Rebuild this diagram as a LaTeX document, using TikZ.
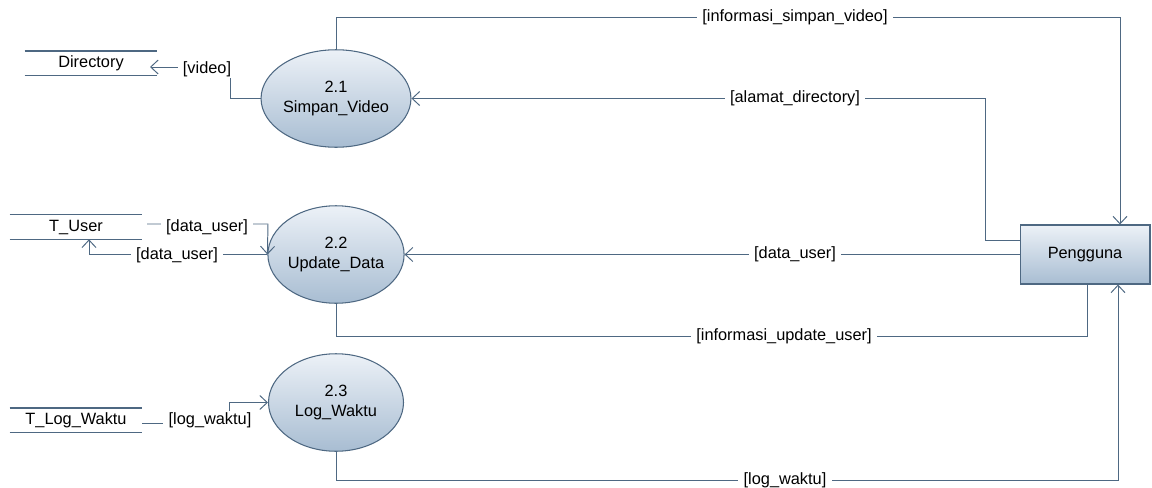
\documentclass[tikz,border=0pt]{standalone}
\usepackage{fontspec}
\setmainfont{Liberation Sans}
\usetikzlibrary{shapes.geometric,arrows.meta}
\definecolor{ln}{RGB}{78,104,130}
\definecolor{ftop}{RGB}{236,241,247}
\definecolor{fbot}{RGB}{168,189,210}
\begin{document}
\begin{tikzpicture}[x=0.02cm,y=-0.02cm,
  txt/.style={font=\fontsize{9.3}{11}\selectfont},
  proc/.style={ellipse,draw=ln,line width=0.6pt,top color=ftop,bottom color=fbot,
    minimum width=2.7cm,minimum height=1.95cm,inner sep=0pt,align=center,txt},
  ent/.style={rectangle,draw=ln,line width=0.6pt,top color=ftop,bottom color=fbot,
    minimum width=2.6cm,minimum height=1.18cm,txt},
  store/.style={minimum width=2.64cm,minimum height=0.48cm,inner sep=0pt,txt},
  storetop/.style={draw=ln,line width=0.9pt},
  storebot/.style={draw=ln,line width=0.6pt},
  flow/.style={draw=ln,line width=0.55pt},
  arr/.style={flow,-{Straight Barb[length=0.15cm,width=0.28cm]}},
  lbl/.style={fill=white,inner xsep=3pt,inner ysep=1pt,txt}]

\useasboundingbox (0,0) rectangle (1152,487);

% processes
\node[proc] (p21) at (336,98.5) {2.1\\Simpan\_Video};
\node[proc] (p22) at (336,254.5) {2.2\\Update\_Data};
\node[proc] (p23) at (336,402.5) {2.3\\Log\_Waktu};

% external entity
\node[ent] (peng) at (1085,254.5) {Pengguna};

% data stores
\node[store] (dir) at (91,63.5) {Directory};
\node[store] (tuser) at (76,227) {T\_User};
\node[store] (tlog) at (76,420.5) {T\_Log\_Waktu};
\foreach \s in {dir,tuser,tlog}{
  \draw[storetop] (\s.north west) -- (\s.north east);
  \draw[storebot] (\s.south west) -- (\s.south east);
}

% helper coordinates
\coordinate (dirin) at (150,67);
\coordinate (tuout) at (147,224);
\coordinate (tlout) at (142,423);
\coordinate (tuin) at (89,0);
\coordinate (pgin1) at (1120,0);
\coordinate (pgout2) at (1087,0);
\coordinate (pgin3) at (1118,0);
\coordinate (pgad) at (0,240);

% flows
\draw[arr] (p21.west) -- (230,98.5) -- (230,67) -- (dirin);
\draw[arr] (tuout) -- (268,224) -- (p22.west);
\draw[arr] (p22.west) -- (89,254.5) -- (tuin |- tuser.south);
\draw[arr] (tlout) -- (229,423) -- (229,402.5) -- (p23.west);
\draw[arr] (p21.north) -- (336,17) -- (1120,17) -- (pgin1 |- peng.north);
\draw[arr] (peng.west |- pgad) -- (985,240) -- (985,98.5) -- (p21.east);
\draw[arr] (peng.west) -- (p22.east);
\draw[flow] (p22.south) -- (336,336) -- (1087,336) -- (pgout2 |- peng.south);
\draw[arr] (p23.south) -- (336,480) -- (1118,480) -- (pgin3 |- peng.south);

% labels
\node[lbl] (lvideo) at (207,69) {[video]};
\node[lbl] (lu1) at (207,227) {[data\_user]};
\node[lbl] (lu2) at (177,255) {[data\_user]};
\node[lbl] (llog1) at (210,420) {[log\_waktu]};
\node[lbl] (lisv) at (795,17) {[informasi\_simpan\_video]};
\node[lbl] (lad) at (795,98.5) {[alamat\_directory]};
\node[lbl] (lu3) at (795,254.5) {[data\_user]};
\node[lbl] (liuu) at (784,336) {[informasi\_update\_user]};
\node[lbl] (llog2) at (785,480) {[log\_waktu]};
\end{tikzpicture}
\end{document}
